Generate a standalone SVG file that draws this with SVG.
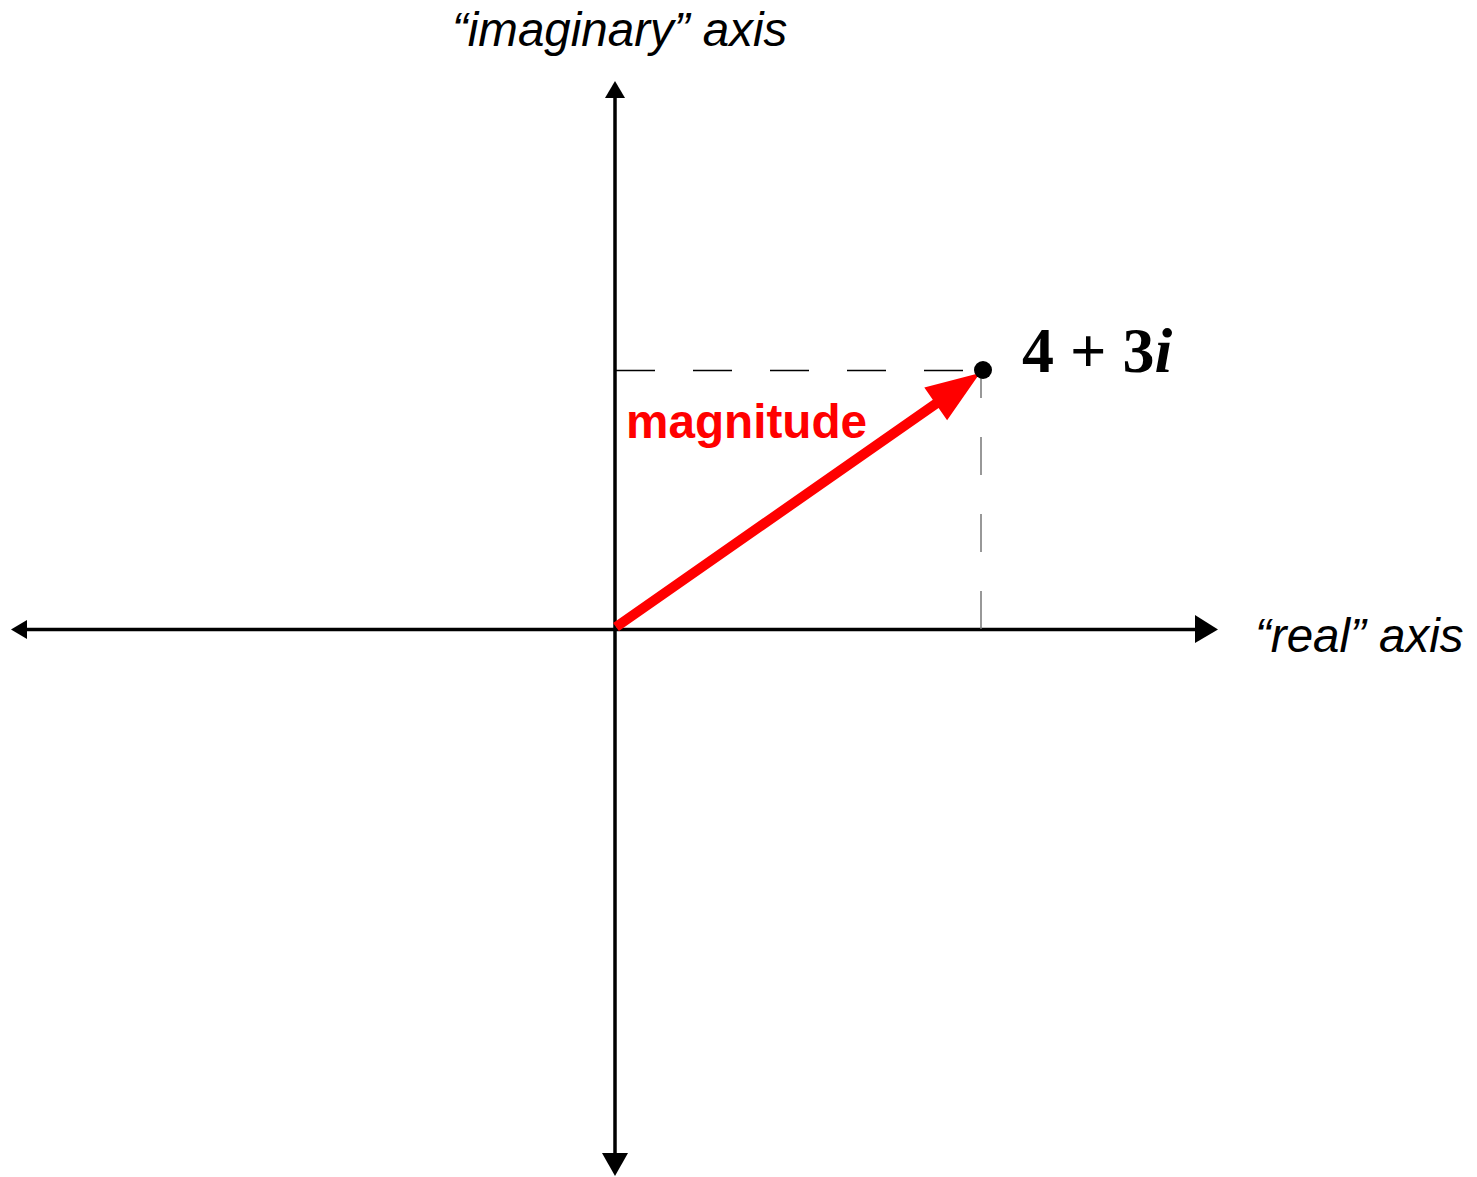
<svg xmlns="http://www.w3.org/2000/svg" width="1477" height="1177" viewBox="0 0 1477 1177">
<style>
.axis{stroke:#000;stroke-width:3.5;fill:none}
.head{fill:#000}
.dash{stroke:#000;stroke-width:1.5;stroke-dasharray:39 38;fill:none}
.dashv{stroke:#777;stroke-width:1.5;stroke-dasharray:38 39;fill:none}
.lbl{font-family:"Liberation Sans",Arial,sans-serif;font-style:italic;font-size:47.5px;fill:#000}
</style>
<rect width="1477" height="1177" fill="#fff"/>
<g id="connectors">
<line class="axis" x1="615" y1="95" x2="615" y2="1155"/>
<polygon class="head" points="615,81 605,98 625,98"/>
<polygon class="head" points="615,1176 602,1153 628,1153"/>
<line class="axis" x1="25" y1="629.5" x2="1197" y2="629.5"/>
<polygon class="head" points="11,629.5 27,620 27,639"/>
<polygon class="head" points="1218,629.5 1195,615 1195,643"/>
<path class="dash" d="M616,370.5 H982"/>
<path class="dashv" d="M981,629 V370"/>
<polygon id="magnitude-arrow" fill="#f00" points="613.1,622.9 932.8,399.8 924.3,387.5 980,373 947.1,420.3 938.6,408 618.9,631.1"/>
</g>
<g id="point">
<circle cx="983" cy="370" r="9" fill="#000"/>
<text x="1022" y="372" font-family="'Liberation Serif','Times New Roman',serif" font-weight="bold" font-size="64" fill="#000">4 + 3<tspan font-style="italic">i</tspan></text>
</g>
<g id="magnitude-label">
<text x="626" y="438" font-family="'Liberation Sans',Arial,sans-serif" font-weight="bold" font-size="47.7" fill="#f00">magnitude</text>
</g>
<g id="imag-label">
<text class="lbl" x="452" y="46">“imaginary” axis</text>
</g>
<g id="real-label">
<text class="lbl" x="1255" y="652">“real” axis</text>
</g>
</svg>
